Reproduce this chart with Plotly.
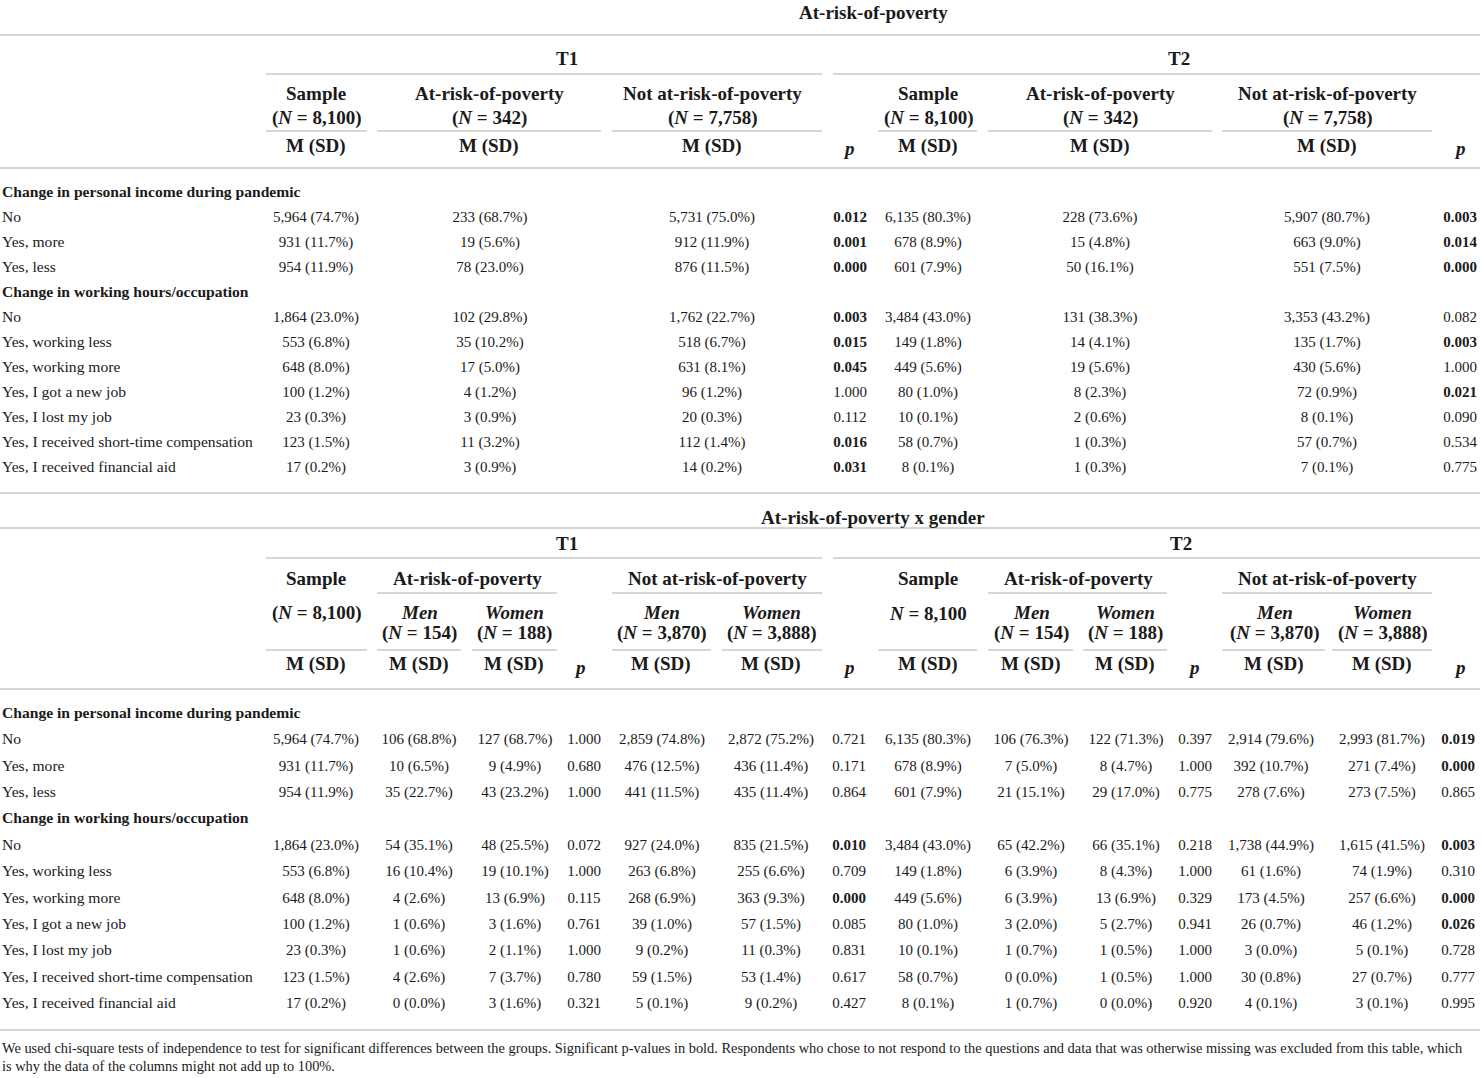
import plotly.graph_objects as go

FONT = "Liberation Serif"
INK = "#1a1a1a"
RULE = "#c8c8c8"

# ---- row labels ----
sections = ["Change in personal income during pandemic", "Change in working hours/occupation"]
income_rows = ["No", "Yes, more", "Yes, less"]
work_rows = ["No", "Yes, working less", "Yes, working more", "Yes, I got a new job",
             "Yes, I lost my job", "Yes, I received short-time compensation",
             "Yes, I received financial aid"]

# ---- at-risk-of-poverty table ----
t1_sample = ["5,964 (74.7%)", "931 (11.7%)", "954 (11.9%)", "1,864 (23.0%)", "553 (6.8%)",
             "648 (8.0%)", "100 (1.2%)", "23 (0.3%)", "123 (1.5%)", "17 (0.2%)"]
t1_poor = ["233 (68.7%)", "19 (5.6%)", "78 (23.0%)", "102 (29.8%)", "35 (10.2%)",
           "17 (5.0%)", "4 (1.2%)", "3 (0.9%)", "11 (3.2%)", "3 (0.9%)"]
t1_notpoor = ["5,731 (75.0%)", "912 (11.9%)", "876 (11.5%)", "1,762 (22.7%)", "518 (6.7%)",
              "631 (8.1%)", "96 (1.2%)", "20 (0.3%)", "112 (1.4%)", "14 (0.2%)"]
t1_p = ["0.012", "0.001", "0.000", "0.003", "0.015", "0.045", "1.000", "0.112", "0.016", "0.031"]
t2_sample = ["6,135 (80.3%)", "678 (8.9%)", "601 (7.9%)", "3,484 (43.0%)", "149 (1.8%)",
             "449 (5.6%)", "80 (1.0%)", "10 (0.1%)", "58 (0.7%)", "8 (0.1%)"]
t2_poor = ["228 (73.6%)", "15 (4.8%)", "50 (16.1%)", "131 (38.3%)", "14 (4.1%)",
           "19 (5.6%)", "8 (2.3%)", "2 (0.6%)", "1 (0.3%)", "1 (0.3%)"]
t2_notpoor = ["5,907 (80.7%)", "663 (9.0%)", "551 (7.5%)", "3,353 (43.2%)", "135 (1.7%)",
              "430 (5.6%)", "72 (0.9%)", "8 (0.1%)", "57 (0.7%)", "7 (0.1%)"]
t2_p = ["0.003", "0.014", "0.000", "0.082", "0.003", "1.000", "0.021", "0.090", "0.534", "0.775"]

# ---- at-risk-of-poverty x gender table ----
g1_poor_men = ["106 (68.8%)", "10 (6.5%)", "35 (22.7%)", "54 (35.1%)", "16 (10.4%)",
               "4 (2.6%)", "1 (0.6%)", "1 (0.6%)", "4 (2.6%)", "0 (0.0%)"]
g1_poor_women = ["127 (68.7%)", "9 (4.9%)", "43 (23.2%)", "48 (25.5%)", "19 (10.1%)",
                 "13 (6.9%)", "3 (1.6%)", "2 (1.1%)", "7 (3.7%)", "3 (1.6%)"]
g1_poor_p = ["1.000", "0.680", "1.000", "0.072", "1.000", "0.115", "0.761", "1.000", "0.780", "0.321"]
g1_notpoor_men = ["2,859 (74.8%)", "476 (12.5%)", "441 (11.5%)", "927 (24.0%)", "263 (6.8%)",
                  "268 (6.9%)", "39 (1.0%)", "9 (0.2%)", "59 (1.5%)", "5 (0.1%)"]
g1_notpoor_women = ["2,872 (75.2%)", "436 (11.4%)", "435 (11.4%)", "835 (21.5%)", "255 (6.6%)",
                    "363 (9.3%)", "57 (1.5%)", "11 (0.3%)", "53 (1.4%)", "9 (0.2%)"]
g1_notpoor_p = ["0.721", "0.171", "0.864", "0.010", "0.709", "0.000", "0.085", "0.831", "0.617", "0.427"]
g2_poor_men = ["106 (76.3%)", "7 (5.0%)", "21 (15.1%)", "65 (42.2%)", "6 (3.9%)",
               "6 (3.9%)", "3 (2.0%)", "1 (0.7%)", "0 (0.0%)", "1 (0.7%)"]
g2_poor_women = ["122 (71.3%)", "8 (4.7%)", "29 (17.0%)", "66 (35.1%)", "8 (4.3%)",
                 "13 (6.9%)", "5 (2.7%)", "1 (0.5%)", "1 (0.5%)", "0 (0.0%)"]
g2_poor_p = ["0.397", "1.000", "0.775", "0.218", "1.000", "0.329", "0.941", "1.000", "1.000", "0.920"]
g2_notpoor_men = ["2,914 (79.6%)", "392 (10.7%)", "278 (7.6%)", "1,738 (44.9%)", "61 (1.6%)",
                  "173 (4.5%)", "26 (0.7%)", "3 (0.0%)", "30 (0.8%)", "4 (0.1%)"]
g2_notpoor_women = ["2,993 (81.7%)", "271 (7.4%)", "273 (7.5%)", "1,615 (41.5%)", "74 (1.9%)",
                    "257 (6.6%)", "46 (1.2%)", "5 (0.1%)", "27 (0.7%)", "3 (0.1%)"]
g2_notpoor_p = ["0.019", "0.000", "0.865", "0.003", "0.310", "0.000", "0.026", "0.728", "0.777", "0.995"]

footnote = [
    "We used chi-square tests of independence to test for significant differences between the groups. "
    "Significant p-values in bold. Respondents who chose to not respond to the questions and data that "
    "was otherwise missing was excluded from this table, which",
    "is why the data of the columns might not add up to 100%.",
]

# row slots: section header, 3 income rows, section header, 7 work rows
data_slots = [1, 2, 3, 5, 6, 7, 8, 9, 10, 11]
section_slots = [0, 4]

fig = go.Figure()


def significant(v):
    return float(v) < 0.05


def add_col(x, y0, step, values, bold=None):
    ys = [y0 + step * s for s in data_slots]
    txt = ["<b>%s</b>" % v if bold and bold(v) else v for v in values]
    fig.add_trace(go.Scatter(
        x=[x] * len(values), y=ys, text=txt, mode="text",
        textposition="middle center",
        textfont=dict(family=FONT, size=15, color=INK),
        hoverinfo="skip", showlegend=False))


def add_labels(y0, step):
    ys = [y0 + step * s for s in section_slots] + [y0 + step * s for s in data_slots]
    txt = ["<b>%s</b>" % s for s in sections] + income_rows + work_rows
    fig.add_trace(go.Scatter(
        x=[2] * len(txt), y=ys, text=txt, mode="text",
        textposition="middle right",
        textfont=dict(family=FONT, size=15.6, color=INK),
        hoverinfo="skip", showlegend=False))


def head(x, y, text, size=19):
    fig.add_annotation(x=x, y=y, xref="x", yref="y", text="<b>%s</b>" % text,
                       showarrow=False, xanchor="center", yanchor="middle",
                       font=dict(family=FONT, size=size, color=INK))


def rule(y, x0, x1):
    fig.add_shape(type="line", xref="x", yref="y", x0=x0, x1=x1, y0=y, y1=y,
                  line=dict(color=RULE, width=1.6))


P = "<i>p</i>"
MSD = "M (SD)"

# ================= top table =================
head(873, 12, "At-risk-of-poverty")
rule(35, 0, 1480)
head(567, 58, "T1")
head(1179, 58, "T2")
rule(74, 266, 822)
rule(74, 833, 1480)
for x, name, n in [(316, "Sample", "8,100"), (489, "At-risk-of-poverty", "342"),
                   (712, "Not at-risk-of-poverty", "7,758"), (928, "Sample", "8,100"),
                   (1100, "At-risk-of-poverty", "342"), (1327, "Not at-risk-of-poverty", "7,758")]:
    head(x, 93, name)
    head(x, 118, "(<i>N</i> = %s)" % n)
    head(x, 146, MSD)
head(849, 148, P)
head(1460, 148, P)
for x0, x1 in [(266, 367), (377, 601), (612, 822), (878, 977), (988, 1212), (1222, 1432)]:
    rule(131, x0, x1)
rule(168, 0, 1480)

Y0, STEP = 193, 25
add_labels(Y0, STEP)
add_col(316, Y0, STEP, t1_sample)
add_col(490, Y0, STEP, t1_poor)
add_col(712, Y0, STEP, t1_notpoor)
add_col(850, Y0, STEP, t1_p, significant)
add_col(928, Y0, STEP, t2_sample)
add_col(1100, Y0, STEP, t2_poor)
add_col(1327, Y0, STEP, t2_notpoor)
add_col(1460, Y0, STEP, t2_p, significant)
rule(493, 0, 1480)

# ================= bottom table =================
head(873, 517, "At-risk-of-poverty x gender")
rule(528, 0, 1480)
head(567, 543, "T1")
head(1181, 543, "T2")
rule(558, 266, 822)
rule(558, 833, 1480)
head(316, 578, "Sample")
head(316, 613, "(<i>N</i> = 8,100)")
head(928, 578, "Sample")
head(928, 613, "<i>N</i> = 8,100")
for x, name in [(467, "At-risk-of-poverty"), (717, "Not at-risk-of-poverty"),
                (1078, "At-risk-of-poverty"), (1327, "Not at-risk-of-poverty")]:
    head(x, 578, name)
for x0, x1 in [(377, 557), (612, 822), (988, 1167), (1222, 1432)]:
    rule(593, x0, x1)
for x, sex, n in [(419, "Men", "154"), (514, "Women", "188"),
                  (661, "Men", "3,870"), (771, "Women", "3,888"),
                  (1031, "Men", "154"), (1125, "Women", "188"),
                  (1274, "Men", "3,870"), (1382, "Women", "3,888")]:
    head(x, 612, "<i>%s</i>" % sex)
    head(x, 633, "(<i>N</i> = %s)" % n)
for x in [316, 419, 514, 661, 771, 928, 1031, 1125, 1274, 1382]:
    head(x, 664, MSD)
for x in [580, 849, 1194, 1460]:
    head(x, 667, P)
for x0, x1 in [(266, 367), (377, 461), (472, 557), (612, 711), (722, 822),
               (878, 977), (988, 1073), (1083, 1167), (1222, 1325), (1332, 1432)]:
    rule(650, x0, x1)
rule(689, 0, 1480)

Y1, STEP1 = 714, 26.4
add_labels(Y1, STEP1)
add_col(316, Y1, STEP1, t1_sample)
add_col(419, Y1, STEP1, g1_poor_men)
add_col(515, Y1, STEP1, g1_poor_women)
add_col(584, Y1, STEP1, g1_poor_p, significant)
add_col(662, Y1, STEP1, g1_notpoor_men)
add_col(771, Y1, STEP1, g1_notpoor_women)
add_col(849, Y1, STEP1, g1_notpoor_p, significant)
add_col(928, Y1, STEP1, t2_sample)
add_col(1031, Y1, STEP1, g2_poor_men)
add_col(1126, Y1, STEP1, g2_poor_women)
add_col(1195, Y1, STEP1, g2_poor_p, significant)
add_col(1271, Y1, STEP1, g2_notpoor_men)
add_col(1382, Y1, STEP1, g2_notpoor_women)
add_col(1458, Y1, STEP1, g2_notpoor_p, significant)
rule(1030, 0, 1480)

# footnote
fig.add_trace(go.Scatter(
    x=[2, 2], y=[1049, 1067], text=footnote, mode="text",
    textposition="middle right",
    textfont=dict(family=FONT, size=14.4, color=INK),
    hoverinfo="skip", showlegend=False))

fig.update_layout(
    width=1482, height=1078,
    margin=dict(l=0, r=0, t=0, b=0),
    paper_bgcolor="white", plot_bgcolor="white",
    xaxis=dict(range=[0, 1482], visible=False, fixedrange=True),
    yaxis=dict(range=[1078, 0], visible=False, fixedrange=True),
    hovermode=False,
)

# drop the page's default body margin so the table sits flush at the top-left
fig.write_html("out.html", config={"displayModeBar": False},
               post_script="document.body.style.margin='0';")
